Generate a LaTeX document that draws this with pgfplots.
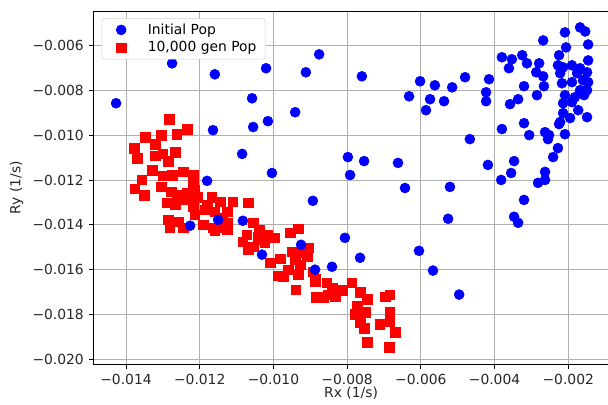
\documentclass[border=0pt]{standalone}
\usepackage{fontspec}
\setmainfont{DejaVu Sans}
\usepackage{pgfplots}
\pgfplotsset{compat=1.18}
\definecolor{mplgrid}{RGB}{176,176,176}
\definecolor{mpltext}{RGB}{38,38,38}

\begin{document}
\begin{tikzpicture}
\begin{axis}[
  scale only axis,
  width=386.6pt, height=265pt,
  xmin=-0.014887, xmax=-0.0009,
  ymin=-0.02022, ymax=-0.004467,
  xtick={-0.014,-0.012,-0.010,-0.008,-0.006,-0.004,-0.002},
  xticklabels={−0.014,−0.012,−0.010,−0.008,−0.006,−0.004,−0.002},
  ytick={-0.020,-0.018,-0.016,-0.014,-0.012,-0.010,-0.008,-0.006},
  yticklabels={−0.020,−0.018,−0.016,−0.014,−0.012,−0.010,−0.008,−0.006},
  scaled ticks=false,
  tick align=outside, major tick length=3.6pt,
  tick style={black, line width=0.6pt},
  tick pos=left,
  axis line style={line width=0.6pt},
  grid=major, grid style={mplgrid, line width=0.6pt},
  ticklabel style={font=\fontsize{10.4}{12}\selectfont, text=mpltext},
  label style={font=\fontsize{10.4}{12}\selectfont, text=mpltext},
  xlabel={Rx (1/s)}, ylabel={Ry (1/s)},
  xlabel style={yshift=5pt},
  legend image code/.code={\path[draw=none, fill=none] (0pt,0pt) -- (22pt,0pt);
    \draw[#1] plot coordinates {(10pt,0pt)};},
  legend style={font=\fontsize{10.4}{12}\selectfont, at={(0.016,0.98)}, anchor=north west,
    draw=gray!35, rounded corners=2pt, fill=white,
    row sep=0pt, column sep=6pt, inner xsep=4.5pt, inner ysep=2pt},
  legend cell align=left,
]
\addlegendimage{only marks, mark=*, mark size=3.75pt, blue, mark options={draw=blue, fill=blue}}
\addlegendentry{Initial Pop}
\addlegendimage{only marks, mark=square*, mark size=3.6pt, red, mark options={draw=red, fill=red}}
\addlegendentry{10,000 gen Pop}

% 10,000 gen population
\addplot[only marks, mark=square*, mark size=3.6pt, draw=red, fill=red, forget plot] coordinates {
(-0.01283,-0.00929)(-0.01234,-0.00973)(-0.01262,-0.00996)(-0.01305,-0.01000)(-0.01348,-0.01009)
(-0.01378,-0.01058)(-0.01370,-0.01102)(-0.01321,-0.01040)(-0.01321,-0.01093)(-0.01300,-0.01084)
(-0.01267,-0.01076)(-0.01286,-0.01116)(-0.01329,-0.01156)(-0.01357,-0.01200)(-0.01376,-0.01240)
(-0.01300,-0.01182)(-0.01275,-0.01178)(-0.01245,-0.01164)(-0.01218,-0.01178)(-0.01218,-0.01209)
(-0.01305,-0.01231)(-0.01278,-0.01253)(-0.01351,-0.01267)(-0.01262,-0.01267)(-0.01234,-0.01258)
(-0.01213,-0.01244)(-0.01289,-0.01302)(-0.01267,-0.01311)(-0.01248,-0.01289)(-0.01226,-0.01280)
(-0.01205,-0.01276)(-0.01218,-0.01320)(-0.01167,-0.01276)(-0.01145,-0.01298)(-0.01180,-0.01311)
(-0.01213,-0.01356)(-0.01159,-0.01342)(-0.01286,-0.01378)(-0.01259,-0.01387)(-0.01281,-0.01413)
(-0.01245,-0.01413)(-0.01191,-0.01400)(-0.01164,-0.01413)(-0.01126,-0.01391)(-0.01126,-0.01422)
(-0.01110,-0.01298)(-0.01069,-0.01302)(-0.01186,-0.01333)(-0.01126,-0.01342)(-0.01137,-0.01369)
(-0.01159,-0.01427)(-0.01137,-0.01413)(-0.01055,-0.01391)(-0.01039,-0.01422)(-0.01015,-0.01444)
(-0.00996,-0.01458)(-0.01083,-0.01476)(-0.01069,-0.01511)(-0.01055,-0.01498)(-0.01042,-0.01453)
(-0.01023,-0.01480)(-0.01072,-0.01444)(-0.01028,-0.01467)(-0.00955,-0.01436)(-0.00933,-0.01418)
(-0.00950,-0.01520)(-0.00928,-0.01524)(-0.00906,-0.01502)(-0.00941,-0.01556)(-0.00909,-0.01542)
(-0.01009,-0.01569)(-0.00982,-0.01551)(-0.00988,-0.01627)(-0.00960,-0.01600)(-0.00933,-0.01622)
(-0.00939,-0.01689)(-0.00887,-0.01644)(-0.00928,-0.01578)(-0.00974,-0.01631)(-0.00893,-0.01609)
(-0.00887,-0.01653)(-0.00855,-0.01658)(-0.00841,-0.01680)(-0.00852,-0.01711)(-0.00814,-0.01693)
(-0.00884,-0.01724)(-0.00865,-0.01724)(-0.00833,-0.01720)(-0.00787,-0.01658)(-0.00765,-0.01702)
(-0.00746,-0.01733)(-0.00697,-0.01720)(-0.00684,-0.01711)(-0.00773,-0.01764)(-0.00779,-0.01800)
(-0.00751,-0.01791)(-0.00765,-0.01836)(-0.00754,-0.01862)(-0.00711,-0.01844)(-0.00684,-0.01791)
(-0.00684,-0.01831)(-0.00670,-0.01880)(-0.00746,-0.01924)(-0.00686,-0.01947)
};

% initial population
\addplot[only marks, mark=*, mark size=3.75pt, draw=blue, fill=blue, forget plot] coordinates {
(-0.01427,-0.00858)(-0.01275,-0.00680)(-0.01159,-0.00729)(-0.01020,-0.00702)(-0.00912,-0.00720)
(-0.01058,-0.00836)(-0.00941,-0.00898)(-0.01164,-0.00978)(-0.01055,-0.00964)(-0.01015,-0.00938)
(-0.01085,-0.01084)(-0.01004,-0.01169)(-0.01180,-0.01204)(-0.00876,-0.00640)(-0.00760,-0.00738)
(-0.00602,-0.00760)(-0.00562,-0.00778)(-0.00515,-0.00787)(-0.00480,-0.00742)(-0.00415,-0.00751)
(-0.00632,-0.00827)(-0.00575,-0.00840)(-0.00537,-0.00849)(-0.00586,-0.00889)(-0.00423,-0.00809)
(-0.00423,-0.00849)(-0.00380,-0.00653)(-0.00353,-0.00662)(-0.00361,-0.00702)(-0.00325,-0.00644)
(-0.00312,-0.00680)(-0.00279,-0.00680)(-0.00287,-0.00720)(-0.00268,-0.00738)(-0.00266,-0.00782)
(-0.00320,-0.00782)(-0.00285,-0.00822)(-0.00336,-0.00840)(-0.00358,-0.00862)(-0.00268,-0.00578)
(-0.00209,-0.00542)(-0.00168,-0.00520)(-0.00154,-0.00538)(-0.00146,-0.00596)(-0.00206,-0.00609)
(-0.00225,-0.00644)(-0.00146,-0.00667)(-0.00228,-0.00689)(-0.00222,-0.00724)(-0.00217,-0.00769)
(-0.00209,-0.00822)(-0.00214,-0.00858)(-0.00190,-0.00689)(-0.00176,-0.00724)(-0.00190,-0.00764)
(-0.00160,-0.00756)(-0.00168,-0.00800)(-0.00182,-0.00831)(-0.00190,-0.00853)(-0.00149,-0.00720)
(-0.00146,-0.00764)(-0.00149,-0.00800)(-0.00157,-0.00822)(-0.00173,-0.00889)(-0.00149,-0.00920)
(-0.00214,-0.00902)(-0.00222,-0.00942)(-0.00195,-0.00924)(-0.00225,-0.00951)(-0.00214,-0.00698)
(-0.00168,-0.00702)(-0.00380,-0.00973)(-0.00320,-0.00947)(-0.00306,-0.01000)(-0.00263,-0.00987)
(-0.00252,-0.01000)(-0.00255,-0.01018)(-0.00209,-0.00996)(-0.00467,-0.01018)(-0.00228,-0.01058)
(-0.00241,-0.01098)(-0.00347,-0.01116)(-0.00418,-0.01133)(-0.00355,-0.01169)(-0.00382,-0.01200)
(-0.00263,-0.01164)(-0.00263,-0.01200)(-0.00282,-0.01213)(-0.00320,-0.01289)(-0.00798,-0.01098)
(-0.00754,-0.01116)(-0.00792,-0.01178)(-0.00662,-0.01124)(-0.00643,-0.01236)(-0.00521,-0.01231)
(-0.00893,-0.01293)(-0.00347,-0.01364)(-0.00336,-0.01391)(-0.00526,-0.01373)(-0.00806,-0.01458)
(-0.00765,-0.01547)(-0.00841,-0.01587)(-0.00605,-0.01516)(-0.00567,-0.01604)(-0.00496,-0.01711)
(-0.01226,-0.01404)(-0.01150,-0.01378)(-0.01083,-0.01382)(-0.01031,-0.01533)(-0.00925,-0.01489)
(-0.00887,-0.01600)
};
\end{axis}
\pgfresetboundingbox
\path[use as bounding box] ([shift={(-70pt,-30.5pt)}]current axis.south west)
  rectangle ([shift={(-0.6pt,8.25pt)}]current axis.north east);
\end{tikzpicture}
\end{document}
